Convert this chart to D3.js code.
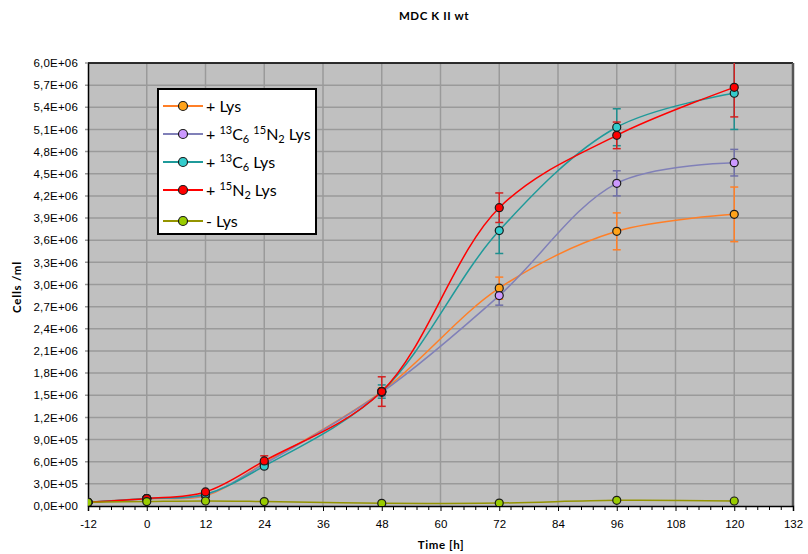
<!DOCTYPE html>
<html>
<head>
<meta charset="utf-8">
<script src="https://cdn.jsdelivr.net/npm/d3@7"></script>
<style>
  body { margin: 0; background: #fff; }
  svg { display: block; font-family: Lato, "Open Sans", sans-serif; }
</style>
</head>
<body>
<div id="chart"></div>
<script>
// ---- data (cells/ml in millions) ----
const hours = [-12, 0, 12, 24, 48, 72, 96, 120];
const xTicks = [-12, 0, 12, 24, 36, 48, 60, 72, 84, 96, 108, 120, 132];
const yTicks = [0, 0.3, 0.6, 0.9, 1.2, 1.5, 1.8, 2.1, 2.4, 2.7, 3.0, 3.3, 3.6, 3.9, 4.2, 4.5, 4.8, 5.1, 5.4, 5.7, 6.0];
const yTickLabels = ["0,0E+00", "3,0E+05", "6,0E+05", "9,0E+05", "1,2E+06", "1,5E+06", "1,8E+06", "2,1E+06",
  "2,4E+06", "2,7E+06", "3,0E+06", "3,3E+06", "3,6E+06", "3,9E+06", "4,2E+06", "4,5E+06", "4,8E+06",
  "5,1E+06", "5,4E+06", "5,7E+06", "6,0E+06"];

const lys      = [0.05, 0.10, 0.14, 0.58, 1.55, 2.95, 3.72, 3.95];
const lysErr   = [0, 0, 0, 0.03, 0.05, 0.15, 0.25, 0.37];
const heavy    = [0.05, 0.10, 0.15, 0.57, 1.54, 2.85, 4.37, 4.65];
const heavyErr = [0, 0, 0, 0.03, 0.05, 0.13, 0.17, 0.18];
const c13      = [0.05, 0.10, 0.16, 0.54, 1.55, 3.73, 5.13, 5.59];
const c13Err   = [0, 0, 0, 0.03, 0.09, 0.31, 0.25, 0.49];
const n15      = [0.05, 0.10, 0.19, 0.61, 1.55, 4.04, 5.02, 5.67];
const n15Err   = [0, 0.01, 0.02, 0.07, 0.20, 0.20, 0.18, 0.40];
const noLys    = [0.05, 0.06, 0.068, 0.06, 0.036, 0.04, 0.077, 0.068];
const noLysErr = [0, 0, 0, 0, 0, 0, 0, 0];

const series = [
  { key: "lys",   values: lys,   err: lysErr,   line: "#ff7f27", fill: "#ffa31a", errColor: "#ff7f27" },
  { key: "heavy", values: heavy, err: heavyErr, line: "#8080b8", fill: "#cc99ff", errColor: "#7070a8" },
  { key: "c13",   values: c13,   err: c13Err,   line: "#1f9a9a", fill: "#33cccc", errColor: "#1f8f8f" },
  { key: "n15",   values: n15,   err: n15Err,   line: "#ff0000", fill: "#ff0000", errColor: "#d42020" },
  { key: "none",  values: noLys, err: noLysErr, line: "#949400", fill: "#99cc00", errColor: "#949400" },
];

// legend labels: [text, kind] parts; kind: n normal, sup, sub
const legendLabels = [
  [["+ Lys", "n"]],
  [["+ ", "n"], ["13", "sup"], ["C", "n"], ["6", "sub"], [" ", "n"], ["15", "sup"], ["N", "n"], ["2", "sub"], [" Lys", "n"]],
  [["+ ", "n"], ["13", "sup"], ["C", "n"], ["6", "sub"], [" Lys", "n"]],
  [["+ ", "n"], ["15", "sup"], ["N", "n"], ["2", "sub"], [" Lys", "n"]],
  [["- Lys", "n"]],
];

const W = 808, H = 554;
const margin = { top: 63, right: 15, bottom: 48, left: 88 };

const svg = d3.select("#chart").append("svg").attr("width", W).attr("height", H);

const x = d3.scaleLinear().domain([-12, 132]).range([margin.left, W - margin.right]);
const y = d3.scaleLinear().domain([0, 6]).range([H - margin.bottom, margin.top]);

// plot background
svg.append("rect")
  .attr("x", x(-12)).attr("y", y(6))
  .attr("width", x(132) - x(-12)).attr("height", y(0) - y(6))
  .attr("fill", "#c0c0c0");

svg.append("clipPath").attr("id", "plotclip").append("rect")
  .attr("x", x(-12)).attr("y", y(6))
  .attr("width", x(132) - x(-12)).attr("height", y(0) - y(6));

// gridlines
const grid = svg.append("g").attr("stroke", "#9a9a9a").attr("stroke-width", 1.5);
grid.selectAll("line.h").data(yTicks.slice(1)).join("line")
  .attr("x1", x(-12) - 3).attr("x2", x(132))
  .attr("y1", d => y(d)).attr("y2", d => y(d));
grid.selectAll("line.v").data(xTicks.slice(1, -1)).join("line")
  .attr("x1", d => x(d)).attr("x2", d => x(d))
  .attr("y1", y(0)).attr("y2", y(6));

// frame: top black, right dark gray
svg.append("line").attr("x1", x(-12)).attr("x2", x(132)).attr("y1", y(6)).attr("y2", y(6))
  .attr("stroke", "#000").attr("stroke-width", 1.5);
svg.append("line").attr("x1", x(132)).attr("x2", x(132)).attr("y1", y(6)).attr("y2", y(0))
  .attr("stroke", "#555").attr("stroke-width", 2.5);

// axes
const xAxis = svg.append("g").attr("transform", `translate(0,${y(0)})`)
  .call(d3.axisBottom(x).tickValues(xTicks).tickSize(5).tickPadding(9).tickFormat(d => d));
// minor ticks every 2.4 h
const minor = d3.range(-12, 132.01, 2.4).filter(v => Math.abs((v + 12) % 12) > 0.1 && Math.abs((v + 12) % 12 - 12) > 0.1);
svg.append("g").selectAll("line").data(minor).join("line")
  .attr("x1", d => x(d)).attr("x2", d => x(d))
  .attr("y1", y(0)).attr("y2", y(0) + 4)
  .attr("stroke", "#000").attr("stroke-width", 1);
xAxis.select(".domain").attr("stroke", "#000").attr("stroke-width", 1.5);
xAxis.selectAll("text").attr("font-size", 11.5).attr("fill", "#000");

const yAxis = svg.append("g").attr("transform", `translate(${x(-12)},0)`)
  .call(d3.axisLeft(y).tickValues(yTicks).tickSize(0).tickPadding(10)
    .tickFormat((d, i) => yTickLabels[i]));
yAxis.select(".domain").attr("stroke", "#000").attr("stroke-width", 1.5);
yAxis.selectAll("text").attr("font-size", 11.5).attr("letter-spacing", 0.2).attr("fill", "#000");

// series
const plot = svg.append("g").attr("clip-path", "url(#plotclip)");
const lineGen = d3.line()
  .x((d, i) => x(hours[i]))
  .y(d => y(d))
  .curve(d3.curveCatmullRom.alpha(0.5));

series.forEach(s => {
  const g = plot.append("g");
  g.append("path").datum(s.values)
    .attr("d", lineGen).attr("fill", "none")
    .attr("stroke", s.line).attr("stroke-width", 1.5);
  const eb = g.append("g").attr("stroke", s.errColor).attr("stroke-width", 1.5);
  s.values.forEach((v, i) => {
    const e = s.err[i];
    if (!e) return;
    const cx = x(hours[i]);
    eb.append("line").attr("x1", cx).attr("x2", cx).attr("y1", y(v - e)).attr("y2", y(v + e));
    eb.append("line").attr("x1", cx - 4).attr("x2", cx + 4).attr("y1", y(v - e)).attr("y2", y(v - e));
    eb.append("line").attr("x1", cx - 4).attr("x2", cx + 4).attr("y1", y(v + e)).attr("y2", y(v + e));
  });
});
series.forEach(s => {
  plot.append("g").selectAll("circle").data(s.values).join("circle")
    .attr("cx", (d, i) => x(hours[i])).attr("cy", d => y(d)).attr("r", 4)
    .attr("fill", s.fill).attr("stroke", "#1a1a1a").attr("stroke-width", 1.2);
});

// legend
const lg = svg.append("g");
lg.append("rect").attr("x", 158).attr("y", 89).attr("width", 158).attr("height", 145)
  .attr("fill", "#fff").attr("stroke", "#000").attr("stroke-width", 2);
const rowsY = [106, 134, 162, 190, 221];
series.forEach((s, i) => {
  const ry = rowsY[i];
  lg.append("line").attr("x1", 163).attr("x2", 203).attr("y1", ry).attr("y2", ry)
    .attr("stroke", s.line).attr("stroke-width", 2);
  lg.append("circle").attr("cx", 183).attr("cy", ry).attr("r", 4.5)
    .attr("fill", s.fill).attr("stroke", "#1a1a1a").attr("stroke-width", 1.2);
  const t = lg.append("text").attr("x", 206).attr("y", ry + 6).attr("font-size", 16).attr("fill", "#000");
  let prev = "n";
  legendLabels[i].forEach(([txt, kind]) => {
    const sp = t.append("tspan").text(txt);
    const offsets = { n: 0, sup: -6, sub: 3 };
    sp.attr("dy", offsets[kind] - offsets[prev]);
    if (kind !== "n") sp.attr("font-size", 11);
    prev = kind;
  });
});

// titles
svg.append("text").attr("x", 434).attr("y", 20).attr("text-anchor", "middle")
  .attr("font-size", 11.5).attr("font-weight", "bold").attr("letter-spacing", 0.6).text("MDC K II wt");
svg.append("text").attr("x", 441).attr("y", 549).attr("text-anchor", "middle")
  .attr("font-size", 11.5).attr("font-weight", "bold").attr("letter-spacing", 0.6).text("Time [h]");
svg.append("text").attr("transform", `translate(21,${287}) rotate(-90)`).attr("text-anchor", "middle")
  .attr("font-size", 11.5).attr("font-weight", "bold").attr("letter-spacing", 0.8).text("Cells /ml");
</script>
</body>
</html>
